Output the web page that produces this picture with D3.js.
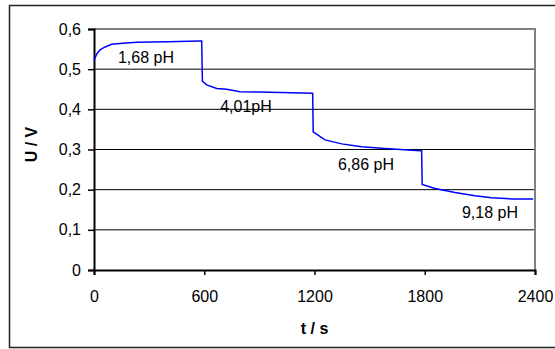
<!DOCTYPE html>
<html>
<head>
<meta charset="utf-8">
<script src="https://cdn.jsdelivr.net/npm/d3@7"></script>
<style>
  body { margin: 0; background: #fff; }
  svg { display: block; font-family: Arial, "Liberation Sans", sans-serif; }
</style>
</head>
<body>
<svg id="chart" width="555" height="349"></svg>
<script>
// measured signal (time in s, voltage in V)
const times = [0, 15, 33, 51, 70, 96, 141, 232, 400, 577, 586,
  590, 613, 668, 722, 795, 900, 1076, 1190,
  1193, 1257, 1348, 1457, 1566, 1709, 1783,
  1786, 1856, 1965, 2073, 2164, 2273, 2390];
const volts = [0.522, 0.538, 0.548, 0.553, 0.557, 0.562, 0.564, 0.567, 0.568, 0.570, 0.570,
  0.470, 0.461, 0.452, 0.450, 0.444, 0.443, 0.441, 0.440,
  0.344, 0.324, 0.314, 0.307, 0.303, 0.299, 0.297,
  0.213, 0.203, 0.193, 0.185, 0.180, 0.177, 0.177];

// buffer annotations
const labelText = ["1,68 pH", "4,01pH", "6,86 pH", "9,18 pH"];
const labelT = [283, 827, 1480, 2155];
const labelU = [0.515, 0.393, 0.249, 0.129];

const xTicks = [0, 600, 1200, 1800, 2400];
const yTicks = [0, 0.1, 0.2, 0.3, 0.4, 0.5, 0.6];

const svg = d3.select("#chart");
const fontSize = 16;

// outer frame
svg.append("rect")
  .attr("x", 9.5).attr("y", 5.5)
  .attr("width", 550).attr("height", 342)
  .attr("fill", "none").attr("stroke", "#222").attr("stroke-width", 1.5);

let margin = {left: 94, top: 29, right: 535, bottom: 270};

let x = d3.scaleLinear().domain([0, 2400]).range([margin.left, margin.right]);
let y = d3.scaleLinear().domain([0, 0.6]).range([margin.bottom, margin.top]);

// grid lines
svg.append("g").selectAll("line")
  .data(yTicks.filter(d => d > 0 && d < 0.6))
  .enter().append("line")
  .attr("x1", x(0)).attr("x2", x(2400))
  .attr("y1", d => y(d)).attr("y2", d => y(d))
  .attr("stroke", "#000").attr("stroke-width", 1);

// plot area top/right border (grey)
svg.append("path")
  .attr("d", `M${x(0)},${y(0.6)}H${x(2400)}V${y(0)}`)
  .attr("fill", "none").attr("stroke", "#808080").attr("stroke-width", 2);

const fmt = d => d === 0 ? "0" : d3.format(".1f")(d).replace(".", ",");

// y axis
let yAxis = svg.append("g")
  .attr("transform", `translate(${x(0)},0)`)
  .call(d3.axisLeft(y).tickValues(yTicks).tickSize(6).tickPadding(7).tickFormat(fmt));

// x axis
let xAxis = svg.append("g")
  .attr("transform", `translate(0,${y(0)})`)
  .call(d3.axisBottom(x).tickValues(xTicks).tickSize(5).tickPadding(16).tickFormat(d3.format("d")));

[yAxis, xAxis].forEach(a => {
  a.select(".domain").attr("stroke", "#000").attr("stroke-width", 2);
  a.selectAll(".tick line").attr("stroke", "#000").attr("stroke-width", 1.5);
  a.selectAll("text").attr("font-size", fontSize).attr("fill", "#000")
    .attr("font-family", "Arial, 'Liberation Sans', sans-serif");
});

// signal line
const line = d3.line().x((d, i) => x(times[i])).y((d, i) => y(volts[i]));
svg.append("path")
  .datum(volts)
  .attr("d", line)
  .attr("fill", "none")
  .attr("stroke", "#0000ff")
  .attr("stroke-width", 1.5);

// pH labels
svg.append("g").selectAll("text")
  .data(labelText)
  .enter().append("text")
  .attr("x", (d, i) => x(labelT[i]))
  .attr("y", (d, i) => y(labelU[i]))
  .attr("text-anchor", "middle")
  .attr("font-size", fontSize)
  .text(d => d);

// axis titles
svg.append("text")
  .attr("x", (margin.left + margin.right) / 2)
  .attr("y", 334)
  .attr("text-anchor", "middle")
  .attr("font-size", fontSize)
  .attr("font-weight", "bold")
  .text("t / s");

svg.append("text")
  .attr("transform", `translate(37,${(margin.top + margin.bottom) / 2 - 5}) rotate(-90)`)
  .attr("text-anchor", "middle")
  .attr("font-size", fontSize)
  .attr("font-weight", "bold")
  .text("U / V");
</script>
</body>
</html>
